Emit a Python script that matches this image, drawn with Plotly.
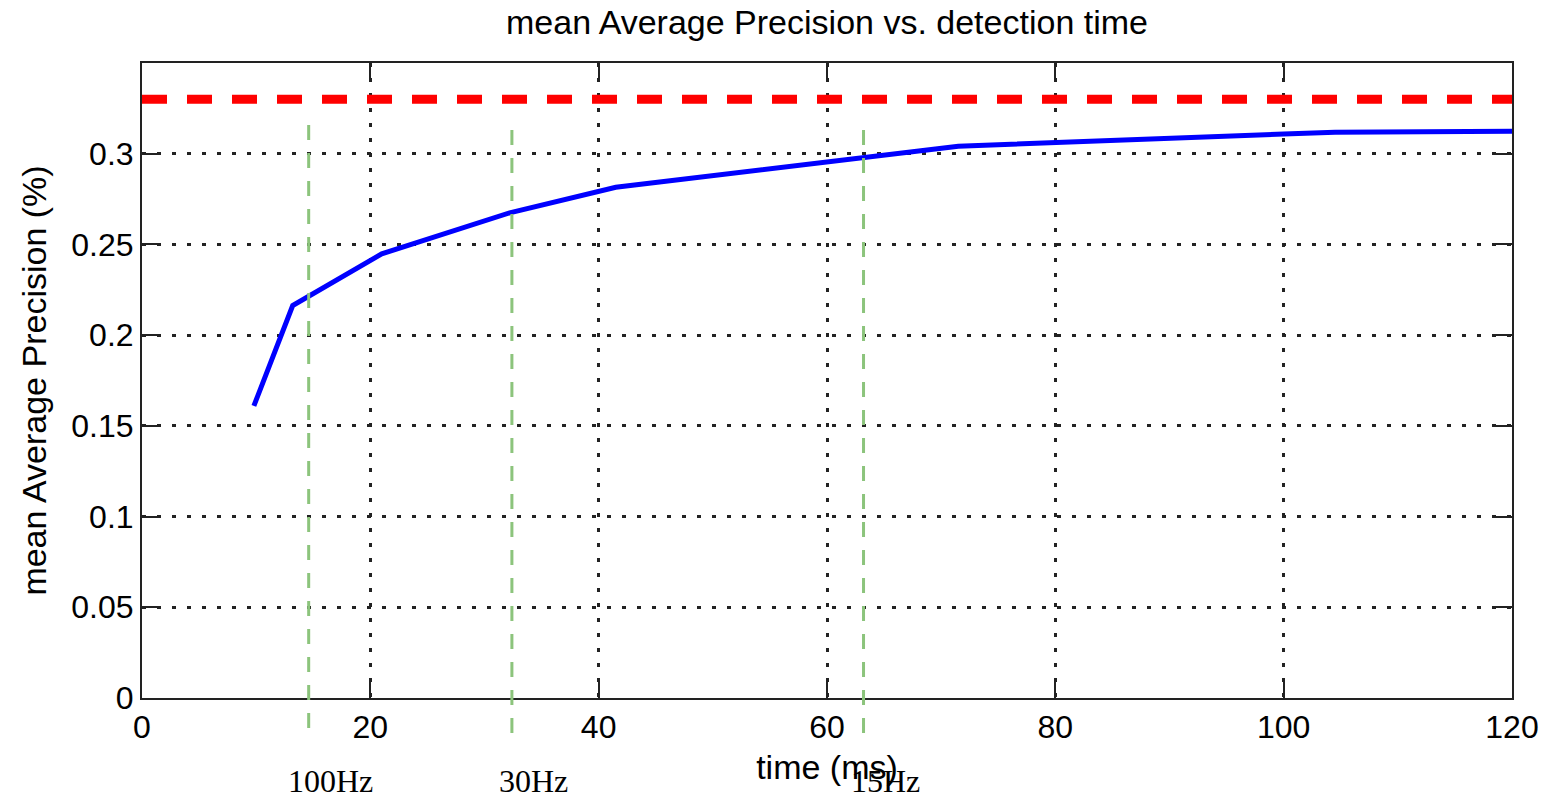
import plotly.graph_objects as go

# ---- data ----
time_ms = [9.8, 13.2, 21.0, 32.2, 41.5, 71.5, 100.0, 104.5, 120.0]
mean_ap = [0.161, 0.2163, 0.2448, 0.2674, 0.2815, 0.3041, 0.3109, 0.3118, 0.3124]

ref_x = [0, 120]
ref_ap = [0.33, 0.33]

rate_times = [14.6, 32.4, 63.2]
rate_labels = ["100Hz", "30Hz", "15Hz"]

x_ticks = [0, 20, 40, 60, 80, 100, 120]
y_ticks = [0, 0.05, 0.1, 0.15, 0.2, 0.25, 0.3]
y_tick_text = ["0", "0.05", "0.1", "0.15", "0.2", "0.25", "0.3"]

SANS = "Liberation Sans, Arial, Helvetica, sans-serif"
SERIF = "Liberation Serif, Times New Roman, serif"

fig = go.Figure()

fig.add_trace(go.Scatter(
    x=ref_x, y=ref_ap, mode="lines",
    line=dict(color="#ff0000", width=9, dash="25px,20px"),
    showlegend=False, hoverinfo="skip",
))

fig.add_trace(go.Scatter(
    x=time_ms, y=mean_ap, mode="lines",
    line=dict(color="#0000ff", width=5),
    showlegend=False,
))

# green vertical markers for frame rates (extend below the axis)
for i, t in enumerate(rate_times):
    top = 0.9024 if i == 0 else 0.8945
    fig.add_shape(
        type="line", xref="x", yref="paper",
        x0=t, x1=t, y0=top, y1=-0.062,
        line=dict(color="#8cc47c", width=3, dash="15px,13px"),
        layer="above",
    )
    fig.add_annotation(
        x=t, xref="x", y=-0.131, yref="paper",
        text=rate_labels[i], showarrow=False,
        xanchor="center", yanchor="middle", xshift=22,
        font=dict(family=SERIF, size=32, color="black"),
    )

axis_common = dict(
    showline=True, linecolor="#222222", linewidth=2, mirror="ticks",
    ticks="inside", ticklen=16, tickwidth=2, tickcolor="#222222",
    showgrid=True, gridcolor="#222222", gridwidth=2.5, griddash="4px,11px",
    zeroline=False,
    tickfont=dict(family=SANS, size=32, color="black"),
)

fig.update_layout(
    width=1551, height=795,
    margin=dict(l=142, r=36, t=63, b=97),
    paper_bgcolor="white", plot_bgcolor="white",
    title=dict(
        text="mean Average Precision vs. detection time",
        x=0.5, xref="paper", y=1 - 22 / 795, yref="container", yanchor="middle",
        font=dict(family=SANS, size=34, color="black"),
    ),
    xaxis=dict(
        range=[0, 120], tickvals=x_ticks,
        title=dict(text="time (ms)", font=dict(family=SANS, size=34, color="black"), standoff=11),
        **axis_common,
    ),
    yaxis=dict(
        range=[0, 0.35], tickvals=y_ticks, ticktext=y_tick_text,
        title=dict(text="mean Average Precision (%)", font=dict(family=SANS, size=34, color="black"), standoff=14),
        **axis_common,
    ),
)

fig.write_html("out.html")
